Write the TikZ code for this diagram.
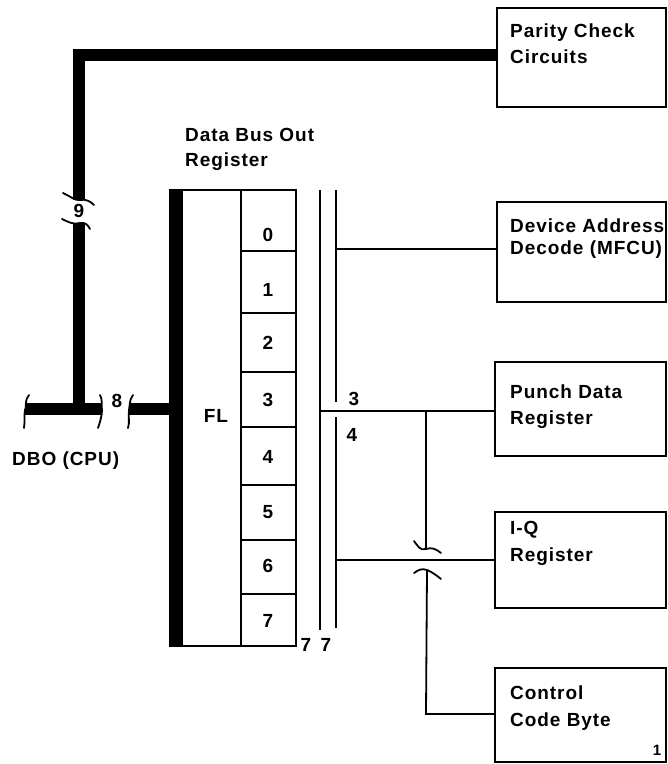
\documentclass[tikz,border=0pt]{standalone}
\usepackage{fontspec}
\setmainfont{Liberation Sans}[LetterSpace=5,BoldFont={Liberation Sans Bold}]
\begin{document}
\begin{tikzpicture}[x=1pt,y=-1pt,
  txt/.style={font=\fontsize{19}{22}\selectfont\bfseries, inner sep=0pt, anchor=west},
  num/.style={font=\fontsize{19}{22}\selectfont\bfseries, inner sep=0pt},
  box/.style={draw, line width=1.8pt, inner sep=0pt, minimum width=#1, minimum height=96pt},
  blk/.style={draw, line width=1.8pt},
  thin/.style={line width=1.8pt},
  bus/.style={line width=12.5pt},
  brk/.style={line width=1.8pt, line cap=round}]
\useasboundingbox (0,0) rectangle (668,764);

% boxes
\node[box=169pt, minimum height=99pt] (parity) at (581.5,57.5) {};
\node[box=169pt, minimum height=100pt] (dev) at (581.5,252) {};
\node[box=171pt, minimum height=94pt] (punch) at (580.5,409) {};
\node[box=171pt, minimum height=96pt] (iq) at (580.5,560) {};
\node[box=171pt, minimum height=94pt] (ccb) at (580.5,715) {};

\node[txt] (t1) at (510,33) {Parity Check};
\node[txt] (t2) at (510,57) {Circuits};
\node[txt] (t3) at (510,226) {Device Address};
\node[txt] (t4) at (510,250) {Decode (MFCU)};
\node[txt] (t5) at (510,392) {Punch Data};
\node[txt] (t6) at (510,420) {Register};
\node[txt] (t7) at (510,530) {I-Q};
\node[txt] (t8) at (510,557) {Register};
\node[txt] (t9) at (510,693) {Control};
\node[txt] (t10) at (510,722) {Code Byte};
\node[num, font=\fontsize{15}{18}\selectfont\bfseries] (t11) at (657,750) {1};

% register
\node[txt] (dbo1) at (185,135) {Data Bus Out};
\node[txt] (dbo2) at (185,162) {Register};
\draw[blk] (170,190) rectangle (296,646);
\fill (170,190) rectangle (183,646);
\draw[thin] (241,190) -- (241,646);
\foreach \yy in {251,313,372,427,485,540,594} \draw[thin] (241,\yy) -- (296,\yy);
\node[num] (b0) at (268,235) {0};
\node[num] (b1) at (268,290) {1};
\node[num] (b2) at (268,343) {2};
\node[num] (b3) at (268,400) {3};
\node[num] (b4) at (268,457) {4};
\node[num] (b5) at (268,512) {5};
\node[num] (b6) at (268,566) {6};
\node[num] (b7) at (268,621) {7};
\node[num] (fl) at (216,416) {FL};
\node[num] (s7a) at (306,645) {7};
\node[num] (s7b) at (326,645) {7};

% internal bus lines
\coordinate (v1t) at (320,190);
\coordinate (v1b) at (320,630);
\coordinate (v2t) at (336,190);
\coordinate (v2m) at (336,402);
\coordinate (v2n) at (336,417);
\coordinate (v2b) at (336,628);
\draw[thin] (v1t) -- (v1b);
\draw[thin] (v2t) -- (v2m);
\draw[thin] (v2n) -- (v2b);
\node[num] (l3) at (354,399) {3};
\node[num] (l4) at (352,435) {4};

\draw[thin] (336,249) -- (dev.west |- 0,249);
\draw[thin] (320,411) -- (punch.west |- 0,411);
\draw[thin] (336,560) -- (iq.west);
\coordinate (br) at (426,411);
\draw[thin] (br) -- (426,549);
\draw[brk] (414,541) .. controls (418,546) and (420,551) .. (426,549) .. controls (432,547) and (436,549) .. (441,553);
\draw[brk] (414,573) .. controls (418,570) and (422,568) .. (427,570) .. controls (432,572) and (436,575) .. (441,579);
\draw[thin] (427,571) -- (426,714) -- (ccb.west |- 0,714);

% main bus
\node[num] (n9) at (79,211) {9};
\node[num] (n8) at (117,401) {8};
\node[txt] (dbo) at (12,461) {DBO (CPU)};
\draw[bus] (parity.west |- 0,55) -- (79,55) -- (79,200);
\draw[bus] (79,223) -- (79,409);
\draw[bus] (25,409) -- (101,409);
\draw[bus] (129,409) -- (170,409);
\draw[brk] (63,193) .. controls (70,196) and (75,201) .. (80,200) .. controls (86,199) and (90,201) .. (94,205);
\draw[brk] (62,219) .. controls (68,222) and (74,225) .. (80,223) .. controls (85,222) and (88,225) .. (90,229);
\draw[brk] (29,395) .. controls (24,400) and (27,408) .. (25,410) .. controls (24,415) and (25,422) .. (24,428);
\draw[brk] (100,395) .. controls (103,400) and (101,406) .. (102,410) .. controls (102,416) and (100,422) .. (98,428);
\draw[brk] (133,395) .. controls (129,400) and (130,406) .. (129,410) .. controls (128,416) and (130,422) .. (128,428);
\end{tikzpicture}
\end{document}
